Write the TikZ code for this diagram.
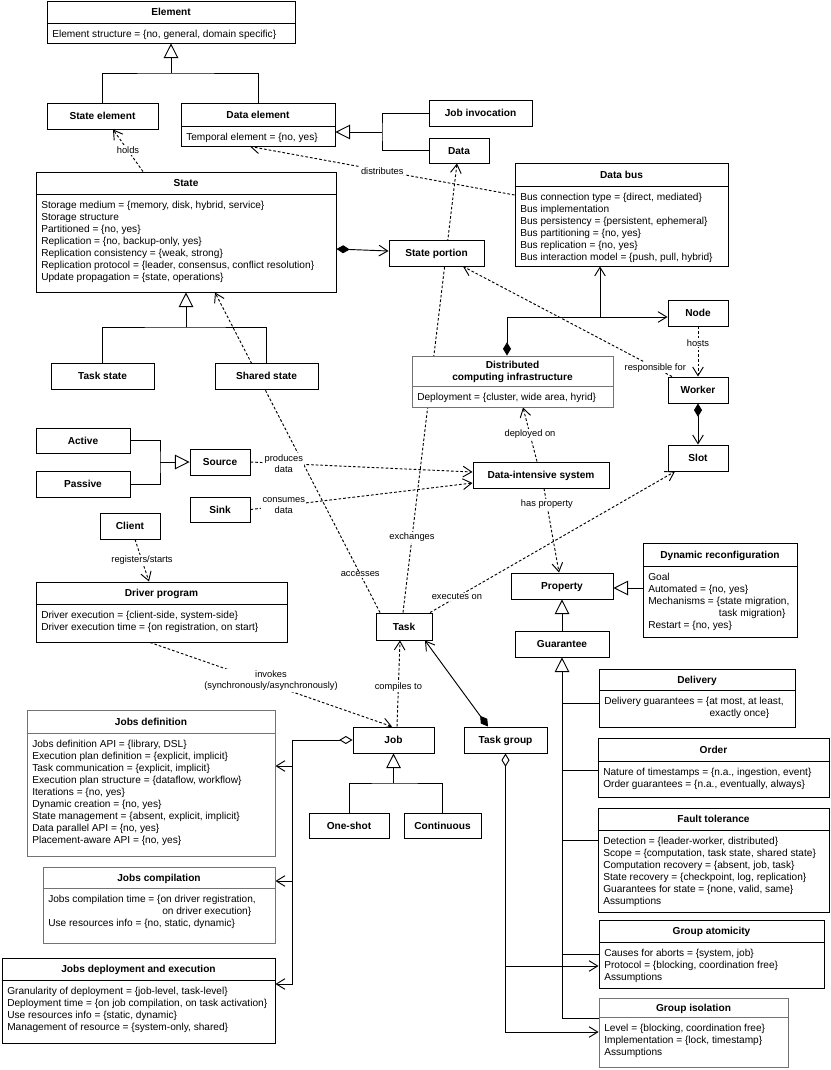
\documentclass[tikz,border=0pt]{standalone}
\usepackage{fontspec}
\setmainfont{Liberation Sans}
\usetikzlibrary{arrows.meta,fit,calc}
\pgfdeclarelayer{bg}
\pgfsetlayers{bg,main}
\tikzset{
  box/.style={draw=black, fill=white, line width=0.7pt, inner sep=0pt},
  gbox/.style={draw=black!55},
  hdrbase/.style={font=\fontsize{7.6}{9}\selectfont\bfseries, inner sep=0pt},
  hdr/.style={hdrbase, text height=5.5pt, text depth=0pt},
  body/.style={font=\fontsize{7.6}{9}\selectfont, inner sep=0pt, anchor=north west, align=left},
  lbl/.style={font=\fontsize{7}{8.4}\selectfont, fill=white, inner sep=0.8pt, align=center},
  conn/.style={line width=0.7pt},
  dep/.style={conn, dash pattern=on 2pt off 1.5pt, -{Straight Barb[length=6.5pt,width=8pt]}},
  assoc/.style={conn, -{Straight Barb[length=6.5pt,width=8pt]}},
  gen/.style={conn, -{Triangle[open,length=11pt,width=11pt]}},
  comp/.style={conn, {Diamond[length=10pt,width=6pt]}-{Straight Barb[length=6.5pt,width=8pt]}},
  agg/.style={conn, {Diamond[open,fill=white,length=10pt,width=6pt]}-{Straight Barb[length=6.5pt,width=8pt]}}
}
% class box with title and attribute compartments
\newcommand\cls[9][]{%
  \node[box,#1,fit={(#3,#4)(#5,#6)}] (#2) {};
  \draw[line width=0.7pt,#1] (#2.west|-0,#7) -- (#2.east|-0,#7);
  \node[hdr] (#2-t) at ($(#3,#4)!0.5!(#5,#7)$) {#8};
  \node[body] (#2-b) at ({#3+5},{#7+6.5}) {#9};
}
% plain box with bold centered title
\newcommand\plainbox[7][]{%
  \node[box,#1,fit={(#3,#4)(#5,#6)}] (#2) {};
  \node[hdr] (#2-t) at (#2.center) {#7};
}
\begin{document}
\begin{tikzpicture}[x=0.75pt,y=-0.75pt]
\begin{pgfonlayer}{bg}
\fill[white] (0,0) rectangle (831,1070);
\end{pgfonlayer}
\useasboundingbox (0,0) rectangle (831,1070);

% ---------- boxes ----------
\cls{Element}{47}{1}{295}{43}{23}{Element}{Element structure = \{no, general, domain specific\}}
\plainbox{StateElement}{47}{103}{158}{129}{State element}
\cls{DataElement}{181}{103}{335}{146}{126}{Data element}{Temporal element = \{no, yes\}}
\plainbox{JobInvocation}{429}{100}{532}{126}{Job invocation}
\plainbox{Data}{429}{138}{489}{163}{Data}
\cls{DataBus}{515}{163}{728}{266}{186}{Data bus}{Bus connection type = \{direct, mediated\}\\Bus implementation\\Bus persistency = \{persistent, ephemeral\}\\Bus partitioning = \{no, yes\}\\Bus replication = \{no, yes\}\\Bus interaction model = \{push, pull, hybrid\}}
\cls{State}{36}{172}{336}{292}{194}{State}{Storage medium = \{memory, disk, hybrid, service\}\\Storage structure\\Partitioned = \{no, yes\}\\Replication = \{no, backup-only, yes\}\\Replication consistency = \{weak, strong\}\\Replication protocol = \{leader, consensus, conflict resolution\}\\Update propagation = \{state, operations\}}
\plainbox{StatePortion}{389}{240}{484}{266}{State portion}
\plainbox{TaskState}{51}{363}{154}{389}{Task state}
\plainbox{SharedState}{215}{363}{318}{389}{Shared state}
\plainbox{Node}{668}{300}{728}{326}{Node}
\plainbox{Worker}{668}{377}{728}{403}{Worker}
\plainbox{Slot}{668}{445}{728}{471}{Slot}
\node[box,gbox,fit={(412,356)(613,407)}] (DCI) {};
\draw[gbox,line width=0.7pt] (DCI.west|-0,386) -- (DCI.east|-0,386);
\node[hdrbase,align=center] (DCI-t) at (512.5,371.5) {Distributed\\computing infrastructure};
\node[body] (DCI-b) at (417,392.5) {Deployment = \{cluster, wide area, hyrid\}};
\plainbox{Active}{36}{428}{130}{453}{Active}
\plainbox{Passive}{36}{471}{130}{497}{Passive}
\plainbox{Source}{190}{449}{250}{475}{Source}
\plainbox{Sink}{190}{497}{250}{522}{Sink}
\plainbox{Client}{100}{513}{160}{539}{Client}
\plainbox{DIS}{473}{462}{609}{488}{Data-intensive system}
\cls{Driver}{36}{582}{287}{642}{604}{Driver program}{Driver execution = \{client-side, system-side\}\\Driver execution time = \{on registration, on start\}}
\plainbox{Task}{376}{613}{432}{640}{Task}
\plainbox{Property}{511}{573}{613}{599}{Property}
\cls{DynRec}{643}{543}{797}{637}{566}{Dynamic reconfiguration}{Goal\\Automated = \{no, yes\}\\Mechanisms = \{state migration,\\\hspace*{53pt}task migration\}\\Restart = \{no, yes\}}
\plainbox{Guarantee}{515}{631}{609}{657}{Guarantee}
\cls{Delivery}{599}{669}{795}{727}{690}{Delivery}{Delivery guarantees = \{at most, at least,\\\hspace*{79pt}exactly once\}}
\cls{Order}{598}{738}{829}{797}{761}{Order}{Nature of timestamps = \{n.a., ingestion, event\}\\Order guarantees = \{n.a., eventually, always\}}
\cls{FaultTol}{598}{808}{829}{912}{830}{Fault tolerance}{Detection = \{leader-worker, distributed\}\\Scope = \{computation, task state, shared state\}\\Computation recovery = \{absent, job, task\}\\State recovery = \{checkpoint, log, replication\}\\Guarantees for state = \{none, valid, same\}\\Assumptions}
\cls{GroupAtom}{599}{920}{824}{988}{942}{Group atomicity}{Causes for aborts = \{system, job\}\\Protocol = \{blocking, coordination free\}\\Assumptions}
\cls[gbox]{GroupIso}{599}{998}{788}{1067}{1017}{Group isolation}{Level = \{blocking, coordination free\}\\Implementation = \{lock, timestamp\}\\Assumptions}
\plainbox{Job}{353}{727}{434}{753}{Job}
\plainbox{TaskGroup}{464}{727}{547}{753}{Task group}
\plainbox{OneShot}{309}{813}{389}{838}{One-shot}
\plainbox{Continuous}{404}{813}{481}{838}{Continuous}
\cls[gbox]{JobsDef}{27}{710}{275}{856}{733}{Jobs definition}{Jobs definition API = \{library, DSL\}\\Execution plan definition = \{explicit, implicit\}\\Task communication = \{explicit, implicit\}\\Execution plan structure = \{dataflow, workflow\}\\Iterations = \{no, yes\}\\Dynamic creation = \{no, yes\}\\State management = \{absent, explicit, implicit\}\\Data parallel API = \{no, yes\}\\Placement-aware API = \{no, yes\}}
\cls[gbox]{JobsComp}{43}{867}{275}{943}{888}{Jobs compilation}{Jobs compilation time = \{on driver registration,\\\hspace*{85.5pt}on driver execution\}\\Use resources info = \{no, static, dynamic\}}
\cls{JobsDep}{2}{958}{275}{1043}{980}{Jobs deployment and execution}{Granularity of deployment = \{job-level, task-level\}\\Deployment time = \{on job compilation, on task activation\}\\Use resources info = \{static, dynamic\}\\Management of resource = \{system-only, shared\}}

% ---------- connectors ----------
\begin{pgfonlayer}{bg}
\draw[conn] (StateElement.north) |- (171,73) -| (DataElement.north);
\draw[gen] (171,73) -- (Element.south);
\draw[conn] (JobInvocation.west) -| (382,132) |- (Data.west);
\draw[gen] (382,132) -- (DataElement.east|-0,132);
\draw[dep] (143,0|-State.north) -- (113,0|-StateElement.south) node[lbl,pos=0.5]{holds};
\draw[dep] (DataBus.west|-0,195) -- (250,0|-DataElement.south) node[lbl,pos=0.5]{distributes};
\draw[comp] (State.east|-0,249) -- (StatePortion.west|-0,251);
\draw[conn] (TaskState.north) |- (186,327) -| (SharedState.north);
\draw[gen] (186,327) -- (State.south);
\draw[dep] (380,0|-Task.north) -- (215,0|-State.south) node[lbl,pos=0.12]{accesses};
\draw[dep] (403,0|-Task.north) -- (457,0|-Data.south) node[lbl,pos=0.167]{exchanges};
\draw[dep] (672,0|-Worker.north) -- (463,0|-StatePortion.south) node[lbl,pos=0.08]{responsible for};
\draw[comp] (507,0|-DCI.north) |- (Node.west|-0,317);
\draw[assoc] (600,317) -- (600,0|-DataBus.south);
\draw[dep] (Node.south) -- (Worker.north) node[lbl,pos=0.33]{hosts};
\draw[comp] (Worker.south) -- (Slot.north);
\draw[dep] (537,0|-DIS.north) -- (523,0|-DCI.south) node[lbl,pos=0.5]{deployed on};
\draw[dep] (544,0|-DIS.south) -- (559,0|-Property.north) node[lbl,pos=0.19]{has property};
\draw[conn] (Active.east) -| (160,462) |- (Passive.east);
\draw[gen] (160,462) -- (Source.west);
\draw[dep] (Source.east) -- (DIS.west|-0,472) node[lbl,pos=0.15]{produces\\data};
\draw[dep] (Sink.east) -- (DIS.west|-0,483) node[lbl,pos=0.15]{consumes\\data};
\draw[dep] (135,0|-Client.south) -- (149,0|-Driver.north) node[lbl,pos=0.5]{registers/starts};
\draw[dep] (150,0|-Driver.south) -- (392,0|-Job.north) node[lbl,pos=0.5,yshift=3pt]{invokes\\(synchronously/asynchronously)};
\draw[dep] (397,0|-Job.north) -- (400,0|-Task.south) node[lbl,pos=0.46]{compiles to};
\draw[comp] (488,0|-TaskGroup.north) -- (425,0|-Task.south);
\draw[dep] (430,0|-Task.north) -- (675,0|-Slot.south) node[lbl,pos=0.11]{executes on};
\draw[gen] (DynRec.west|-0,588) -- (Property.east|-0,588);
\draw[gen] (Guarantee.north) -- (Property.south);
\draw[gen] (GroupIso.west|-0,1018) -| (Guarantee.south);
\draw[conn] (562,703) -- (Delivery.west|-0,703);
\draw[conn] (562,770) -- (Order.west|-0,770);
\draw[conn] (562,840) -- (FaultTol.west|-0,840);
\draw[conn] (562,954) -- (GroupAtom.west|-0,954);
\draw[conn] (OneShot.north) |- (393.5,783) -| (Continuous.north);
\draw[gen] (393.5,783) -- (Job.south);
\draw[agg] (Job.west) -| (292,984) -- (JobsDep.east|-0,984);
\draw[assoc] (292,766) -- (JobsDef.east|-0,766);
\draw[assoc] (292,881) -- (JobsComp.east|-0,881);
\draw[agg] (TaskGroup.south) |- (GroupIso.west|-0,1032);
\draw[assoc] (505.5,966) -- (GroupAtom.west|-0,966);
\end{pgfonlayer}
\end{tikzpicture}
\end{document}
